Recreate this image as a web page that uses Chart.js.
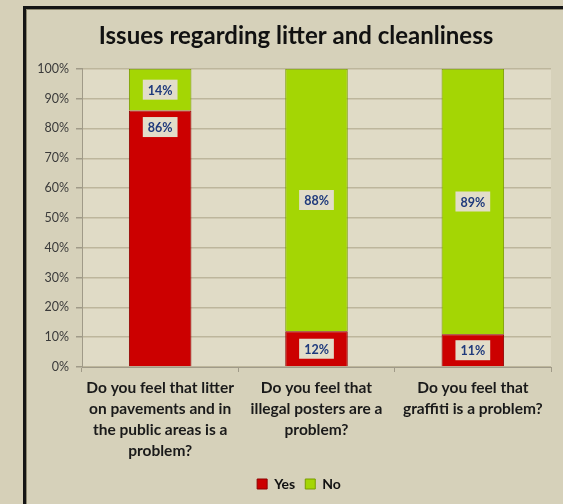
<!DOCTYPE html>
<html>
<head>
<meta charset="utf-8">
<script src="https://cdn.jsdelivr.net/npm/chart.js@4/dist/chart.umd.min.js"></script>
<style>
  html, body { margin: 0; padding: 0; background: #d6d0b8; overflow: hidden; }
  #frame {
    position: absolute; left: 23px; top: 6px; width: 600px; height: 560px;
    border-left: 3px solid #151515; border-top: 3px solid #151515;
    box-shadow: inset 1px 1px 0 #8c8770;
    background: #d6d1ba;
  }
  #wrap { position: absolute; left: 0; top: 0; width: 563px; height: 504px; }
</style>
</head>
<body>
<div id="frame"></div>
<div id="wrap"><canvas id="issuesChart" width="563" height="504"></canvas></div>
<script>
const categories = [
  ['Do you feel that litter', 'on pavements and in', 'the public areas is a', 'problem?'],
  ['Do you feel that', 'illegal posters are a', 'problem?'],
  ['Do you feel that', 'graffiti is a problem?']
];
const yesValues = [86, 12, 11];
const noValues = [14, 88, 89];
const yTicks = [0, 10, 20, 30, 40, 50, 60, 70, 80, 90, 100];

const FONT = "Lato, 'Open Sans', 'DejaVu Sans', sans-serif";

document.addEventListener('DOMContentLoaded', function () {
  const ctx = document.getElementById('issuesChart').getContext('2d');

  // light plot background
  const plotBg = {
    id: 'plotBg',
    beforeDraw(chart) {
      const a = chart.chartArea;
      const c = chart.ctx;
      c.save();
      c.fillStyle = '#e0dbc6';
      c.fillRect(a.left, a.top, a.right - a.left, a.bottom - a.top);
      c.restore();
    }
  };

  // centre title and legend on the frame rather than the canvas
  const shiftBlocks = {
    id: 'shiftBlocks',
    afterLayout(chart) {
      if (chart.titleBlock) chart.titleBlock.left += 14;
      if (chart.legend) chart.legend.left += 20;
    }
  };

  // little boxed percentage labels on the bars
  const boxLabels = {
    id: 'boxLabels',
    afterDatasetsDraw(chart) {
      const c = chart.ctx;
      c.save();
      c.font = 'bold 12.5px ' + FONT;
      c.textAlign = 'center';
      c.textBaseline = 'middle';
      chart.data.datasets.forEach((ds, di) => {
        chart.getDatasetMeta(di).data.forEach((bar, i) => {
          const txt = ds.data[i] + '%';
          let y = (bar.y + bar.base) / 2;
          if (di === 0 && i === 0) y = bar.y + 16.5; // inside end
          const w = c.measureText(txt).width + 10;
          const h = 20;
          c.fillStyle = '#e2ddc9';
          c.fillRect(bar.x - w / 2, y - h / 2, w, h);
          c.fillStyle = '#1f3a7c';
          c.fillText(txt, bar.x, y + 1);
        });
      });
      c.restore();
    }
  };

  new Chart(ctx, {
    type: 'bar',
    data: {
      labels: categories,
      datasets: [
        {
          label: 'Yes',
          data: yesValues,
          backgroundColor: '#cc0000',
          borderColor: '#8e0000',
          borderWidth: 1
        },
        {
          label: 'No',
          data: noValues,
          backgroundColor: '#a4d604',
          borderColor: '#7a9c00',
          borderWidth: 1
        }
      ]
    },
    options: {
      responsive: false,
      animation: false,
      categoryPercentage: 1,
      barPercentage: 0.4,
      layout: { padding: { left: 27, right: 12, top: 22, bottom: 3 } },
      plugins: {
        title: {
          display: true,
          text: 'Issues regarding litter and cleanliness',
          color: '#111',
          font: { family: FONT, size: 24, weight: 'bold', lineHeight: 1.2 },
          padding: { top: 0, bottom: 18 }
        },
        legend: {
          position: 'bottom',
          labels: {
            color: '#111',
            font: { family: FONT, size: 14, weight: 'bold' },
            boxWidth: 10,
            boxHeight: 10,
            padding: 10
          }
        },
        tooltip: { enabled: false }
      },
      scales: {
        x: {
          stacked: true,
          afterFit(scale) { scale.height = 100; },
          grid: {
            offset: true,
            drawOnChartArea: false,
            drawTicks: true,
            tickLength: 5,
            color: '#a09a88'
          },
          border: { color: '#a09a88' },
          ticks: {
            color: '#1a1a1a',
            padding: 6,
            font: { family: FONT, size: 15.5, weight: 'bold', lineHeight: 1.35 }
          }
        },
        y: {
          stacked: true,
          min: 0,
          max: 100,
          afterFit(scale) { scale.width = 55; },
          afterBuildTicks(scale) { scale.ticks = yTicks.map(v => ({ value: v })); },
          grid: {
            color: '#bdb69c',
            lineWidth: 1.5,
            tickLength: 6,
            tickColor: '#a09a88'
          },
          border: { color: '#a09a88' },
          ticks: {
            color: '#3a3a3a',
            padding: 7,
            font: { family: FONT, size: 12.5 },
            callback: v => v + '%'
          }
        }
      }
    },
    plugins: [plotBg, shiftBlocks, boxLabels]
  });
});
</script>
</body>
</html>
